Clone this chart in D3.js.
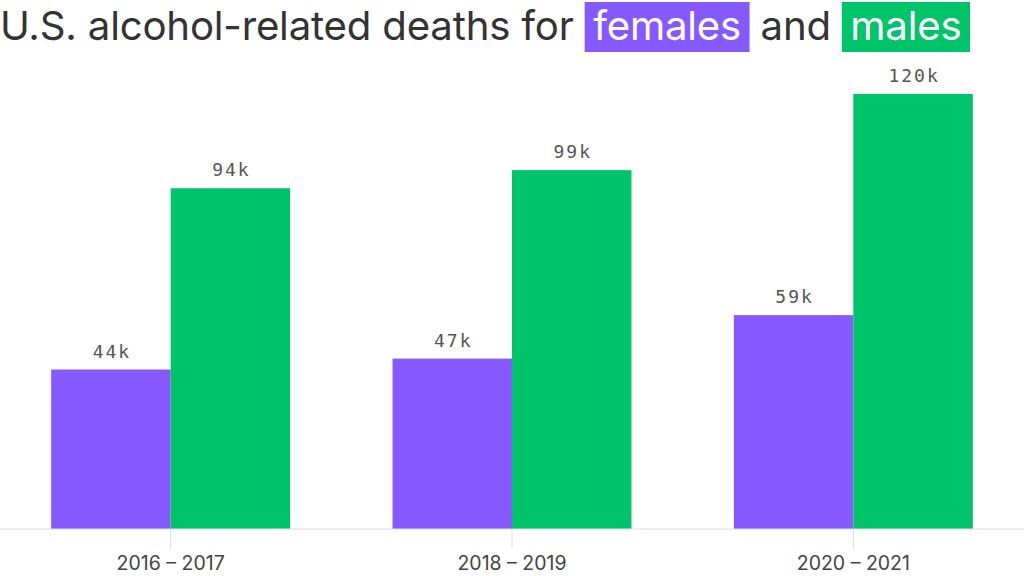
<!DOCTYPE html>
<html lang="en">
<head>
<meta charset="UTF-8">
<title>U.S. alcohol-related deaths</title>
<script src="https://d3js.org/d3.v7.min.js"></script>
<style>
    body { margin: 0; padding: 0; background: #fff; }
    svg { display: block; }
</style>
</head>
<body>
<div id="chart"></div>
<script>
    const periods = ["2016 – 2017", "2018 – 2019", "2020 – 2021"];
    const series = ["females", "males"];
    const females = [44, 47, 59];
    const males = [94, 99, 120];
    const colors = { females: "#8559ff", males: "#00c46a" };

    const width = 1024, height = 576;
    const baseline = 529;

    const svg = d3.select("#chart").append("svg")
        .attr("width", width).attr("height", height);

    // title: plain text pieces and highlighted words laid out one after another
    const titleParts = [
        { t: "U.S. alcohol-related deaths for", key: null },
        { t: "females", key: "females" },
        { t: "and", key: null },
        { t: "males", key: "males" }
    ];
    const titleG = svg.append("g");
    let pos = 0;
    titleParts.forEach((p, i) => {
        const pad = p.key ? 8.5 : 0;
        const gap = i === 0 ? 0 : 11;
        const start = pos + gap;
        const rect = p.key ? titleG.append("rect") : null;
        const txt = titleG.append("text")
            .attr("x", start + pad).attr("y", 40)
            .style("font-family", "Inter, 'Noto Sans', sans-serif")
            .style("font-size", "40.2px")
            .style("letter-spacing", "-0.2px")
            .attr("fill", p.key ? "#fff" : "#333")
            .text(p.t);
        const len = txt.node().getComputedTextLength();
        if (rect) {
            rect.attr("x", start).attr("y", 2)
                .attr("width", len + pad * 2).attr("height", 50)
                .attr("fill", colors[p.key]);
        }
        pos = start + len + pad * 2;
    });

    const x0 = d3.scaleBand().domain(periods).range([0, width])
        .paddingInner(0.3).paddingOuter(0.15);
    const x1 = d3.scaleBand().domain(series).range([0, x0.bandwidth()]);
    const y = d3.scaleLinear().domain([0, 120]).range([baseline, 94]);

    const rows = periods.map((p, i) => ({ period: p, females: females[i], males: males[i] }));

    const groups = svg.append("g").selectAll("g")
        .data(rows).join("g")
        .attr("transform", d => `translate(${x0(d.period)},0)`);

    groups.selectAll("rect")
        .data(d => series.map(k => ({ key: k, value: d[k] })))
        .join("rect")
        .attr("x", d => x1(d.key))
        .attr("y", d => y(d.value))
        .attr("width", x1.bandwidth())
        .attr("height", d => baseline - y(d.value))
        .attr("fill", d => colors[d.key]);

    groups.selectAll("text")
        .data(d => series.map(k => ({ key: k, value: d[k] })))
        .join("text")
        .attr("x", d => x1(d.key) + x1.bandwidth() / 2 + 1)
        .attr("y", d => y(d.value) - 12)
        .attr("text-anchor", "middle")
        .style("font-family", "'DejaVu Sans Mono', 'Liberation Mono', monospace")
        .style("font-size", "18px")
        .style("letter-spacing", "2px")
        .attr("fill", "#555")
        .text(d => d.value + "k");

    // axis
    const axis = svg.append("g")
        .attr("transform", `translate(0,${baseline})`)
        .call(d3.axisBottom(x0).tickSize(20).tickPadding(7));
    axis.select(".domain").attr("stroke", "#ddd").attr("d", `M0,0H${width}`);
    axis.selectAll(".tick line").attr("stroke", "#ddd");
    axis.selectAll(".tick text")
        .attr("xml:space", "preserve")
        .style("font-family", "Inter, 'Noto Sans', sans-serif")
        .style("font-size", "19.5px")
        .attr("fill", "#444");
</script>
</body>
</html>
